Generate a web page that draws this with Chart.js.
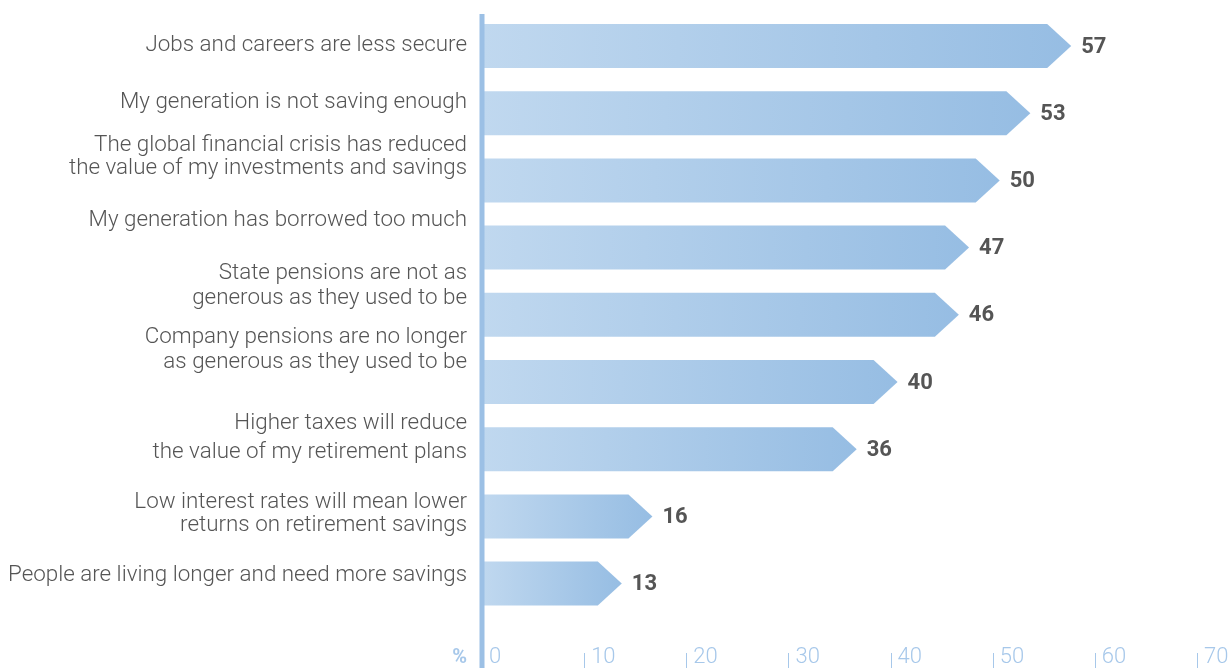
<!DOCTYPE html>
<html>
<head>
<meta charset="utf-8">
<script src="https://cdn.jsdelivr.net/npm/chart.js@4/dist/chart.umd.min.js"></script>
<style>
  html, body { margin: 0; padding: 0; background: #ffffff; }
  #wrap { width: 1228px; height: 668px; }
</style>
</head>
<body>
<div id="wrap"><canvas id="chart" width="1228" height="668"></canvas></div>
<script>
// Reasons respondents give, one entry per bar (multi-line labels as arrays)
const categories = [
  ["Jobs and careers are less secure"],
  ["My generation is not saving enough"],
  ["The global financial crisis has reduced", "the value of my investments and savings"],
  ["My generation has borrowed too much"],
  ["State pensions are not as", "generous as they used to be"],
  ["Company pensions are no longer", "as generous as they used to be"],
  ["Higher taxes will reduce", "the value of my retirement plans"],
  ["Low interest rates will mean lower", "returns on retirement savings"],
  ["People are living longer and need more savings"]
];

// Share of respondents, %
const shares = [57, 53, 50, 47, 46, 40, 36, 16, 13];

// Tick values along the percentage axis
const xTicks = [0, 10, 20, 30, 40, 50, 60, 70];
const axisUnit = "%";

// Styling
const FONT = "Roboto, 'Helvetica Neue', Arial, sans-serif";
const TEXT_GREY = "#555555";
const AXIS_BLUE = "#9cc0e5";
const TICK_BLUE = "#a7c8ea";
const BAR_LIGHT = "#c0d8ef";
const BAR_DARK = "#96bde3";

// Vertical placement of each label line relative to its bar centre (px)
const labelLineOffsets = [
  [-1],
  [-11],
  [-35, -12],
  [-27],
  [-41, -16],
  [-45, -20],
  [-26, 3],
  [-14, 9],
  [-8]
];

// Draws each bar as a gradient arrow plus its value label
const arrowBars = {
  id: "arrowBars",
  afterDatasetsDraw(chart) {
    const ctx = chart.ctx;
    const meta = chart.getDatasetMeta(0);
    ctx.save();
    meta.data.forEach((bar, i) => {
      const { x, y, base, height } = bar.getProps(["x", "y", "base", "height"], true);
      const half = height / 2;
      const tip = x + 7;
      const neck = tip - 24;
      const grad = ctx.createLinearGradient(base, 0, tip, 0);
      grad.addColorStop(0, BAR_LIGHT);
      grad.addColorStop(1, BAR_DARK);
      ctx.fillStyle = grad;
      ctx.beginPath();
      ctx.moveTo(base, y - half);
      ctx.lineTo(neck, y - half);
      ctx.lineTo(tip, y);
      ctx.lineTo(neck, y + half);
      ctx.lineTo(base, y + half);
      ctx.closePath();
      ctx.fill();

      ctx.fillStyle = TEXT_GREY;
      ctx.font = "bold 22px " + FONT;
      ctx.textAlign = "left";
      ctx.textBaseline = "middle";
      ctx.fillText(String(shares[i]), tip + 10, y + 1);
    });
    ctx.restore();
  },
  afterDraw(chart) {
    const ctx = chart.ctx;
    const xs = chart.scales.x;
    const ys = chart.scales.y;
    ctx.save();

    // vertical baseline at zero
    const x0 = xs.getPixelForValue(0);
    ctx.fillStyle = AXIS_BLUE;
    ctx.fillRect(x0 - 2.5, 14, 5, chart.height - 14);

    // small tick marks before each tick label
    ctx.strokeStyle = TICK_BLUE;
    ctx.lineWidth = 1;
    xTicks.forEach(v => {
      if (v === 0) return;
      const px = Math.round(xs.getPixelForValue(v)) + 0.5;
      ctx.beginPath();
      ctx.moveTo(px, 653);
      ctx.lineTo(px, 668);
      ctx.stroke();
    });

    // unit marker
    ctx.fillStyle = TICK_BLUE;
    ctx.font = "bold 20px " + FONT;
    ctx.textAlign = "right";
    ctx.textBaseline = "middle";
    ctx.fillText(axisUnit, 467, 658);

    // category labels
    ctx.fillStyle = TEXT_GREY;
    ctx.font = "300 22.4px " + FONT;
    ctx.textAlign = "right";
    ctx.textBaseline = "middle";
    categories.forEach((lines, i) => {
      const cy = ys.getPixelForValue(i);
      lines.forEach((line, j) => {
        ctx.fillText(line, 467, cy + labelLineOffsets[i][j]);
      });
    });
    ctx.restore();
  }
};

new Chart(document.getElementById("chart"), {
  type: "bar",
  data: {
    labels: categories,
    datasets: [{
      data: shares,
      backgroundColor: "rgba(0,0,0,0)",
      borderWidth: 0,
      barThickness: 44
    }]
  },
  options: {
    indexAxis: "y",
    responsive: false,
    devicePixelRatio: 1,
    animation: false,
    layout: { padding: { left: 482, right: 31, top: 12.4, bottom: 0 } },
    plugins: {
      legend: { display: false },
      tooltip: { enabled: false }
    },
    scales: {
      x: {
        type: "linear",
        position: "bottom",
        min: 0,
        max: 70,
        afterBuildTicks: s => { s.ticks = xTicks.map(v => ({ value: v })); },
        afterFit: s => { s.height = 50.8; s.paddingLeft = 0; s.paddingRight = 0; },
        grid: { display: false },
        border: { display: false },
        ticks: {
          align: "start",
          labelOffset: 7,
          padding: 21.5,
          color: TICK_BLUE,
          font: { family: FONT, size: 22, weight: "300", lineHeight: 1 },
          callback: v => String(v)
        }
      },
      y: {
        type: "category",
        display: false,
        offset: true,
        grid: { display: false }
      }
    }
  },
  plugins: [arrowBars]
});
</script>
</body>
</html>
